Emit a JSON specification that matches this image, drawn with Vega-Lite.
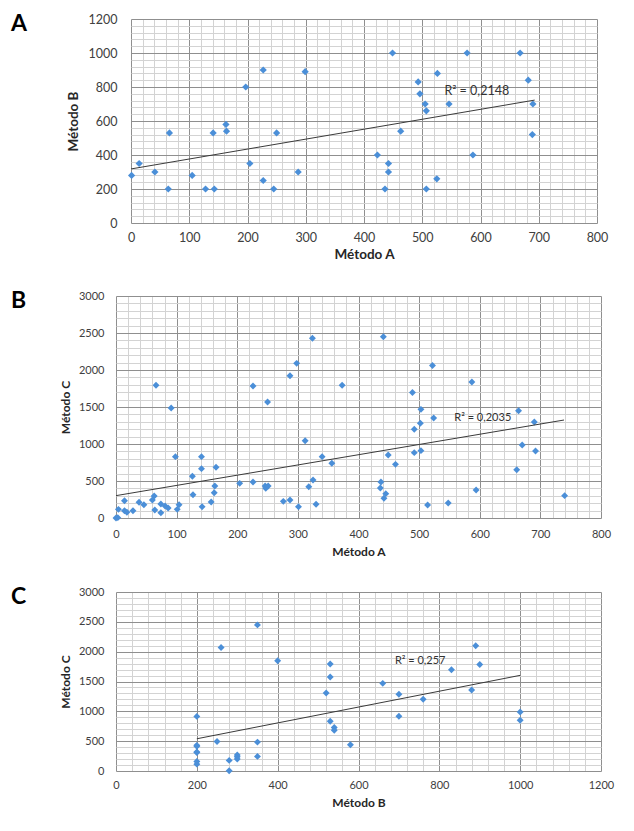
{
  "$schema": "https://vega.github.io/schema/vega-lite/v6.json",
  "background": "white",
  "padding": {"left": 10, "top": 13, "right": 8, "bottom": 8},
  "columns": 2,
  "align": "none",
  "spacing": {"row": 29, "column": 0},
  "config": {
    "font": "Lato",
    "view": {"stroke": null},
    "axis": {
      "labelFont": "Lato",
      "labelColor": "#404040",
      "titleFont": "Lato",
      "titleFontWeight": "bold",
      "titleColor": "#262626",
      "format": "d",
      "ticks": false,
      "domain": false,
      "grid": true,
      "gridOpacity": 1,
      "gridWidth": 1,
      "labelFlush": false,
      "labelOverlap": false
    },
    "title": {"font": "Lato", "fontWeight": "bold", "color": "#000000", "anchor": "start", "frame": "group", "offset": -23, "baseline": "middle"}
  },
  "datasets": {
    "none": [],
    "ab": [
      {"metodoA": 1, "metodoB": 280}, {"metodoA": 14, "metodoB": 350}, {"metodoA": 41, "metodoB": 300},
      {"metodoA": 66, "metodoB": 530}, {"metodoA": 64, "metodoB": 200}, {"metodoA": 105, "metodoB": 280},
      {"metodoA": 128, "metodoB": 200}, {"metodoA": 143, "metodoB": 200}, {"metodoA": 141, "metodoB": 530},
      {"metodoA": 163, "metodoB": 580}, {"metodoA": 164, "metodoB": 540}, {"metodoA": 197, "metodoB": 800},
      {"metodoA": 204, "metodoB": 350}, {"metodoA": 227, "metodoB": 900}, {"metodoA": 227, "metodoB": 250},
      {"metodoA": 245, "metodoB": 200}, {"metodoA": 250, "metodoB": 530}, {"metodoA": 287, "metodoB": 300},
      {"metodoA": 299, "metodoB": 890}, {"metodoA": 423, "metodoB": 400}, {"metodoA": 436, "metodoB": 200},
      {"metodoA": 442, "metodoB": 350}, {"metodoA": 442, "metodoB": 300}, {"metodoA": 449, "metodoB": 1000},
      {"metodoA": 463, "metodoB": 540}, {"metodoA": 493, "metodoB": 830}, {"metodoA": 496, "metodoB": 760},
      {"metodoA": 505, "metodoB": 700}, {"metodoA": 507, "metodoB": 660}, {"metodoA": 507, "metodoB": 200},
      {"metodoA": 526, "metodoB": 880}, {"metodoA": 525, "metodoB": 260}, {"metodoA": 546, "metodoB": 700},
      {"metodoA": 577, "metodoB": 1000}, {"metodoA": 668, "metodoB": 1000}, {"metodoA": 682, "metodoB": 840},
      {"metodoA": 690, "metodoB": 700}, {"metodoA": 689, "metodoB": 520}, {"metodoA": 587, "metodoB": 400}
    ],
    "abTrend": [
      {"metodoA": 0, "metodoB": 318},
      {"metodoA": 693, "metodoB": 723}
    ],
    "abR2": [
      {"metodoA": 538, "metodoB": 776, "label": "R² = 0,2148"}
    ],
    "ac": [
      {"metodoA": 0, "metodoC": 0}, {"metodoA": 3, "metodoC": 5}, {"metodoA": 4, "metodoC": 117},
      {"metodoA": 14, "metodoC": 234}, {"metodoA": 14, "metodoC": 99}, {"metodoA": 18, "metodoC": 77},
      {"metodoA": 28, "metodoC": 99}, {"metodoA": 38, "metodoC": 212}, {"metodoA": 46, "metodoC": 180},
      {"metodoA": 60, "metodoC": 243}, {"metodoA": 63, "metodoC": 297}, {"metodoA": 64, "metodoC": 108},
      {"metodoA": 66, "metodoC": 1793}, {"metodoA": 74, "metodoC": 189}, {"metodoA": 74, "metodoC": 72},
      {"metodoA": 81, "metodoC": 162}, {"metodoA": 86, "metodoC": 135}, {"metodoA": 91, "metodoC": 1486},
      {"metodoA": 98, "metodoC": 829}, {"metodoA": 101, "metodoC": 117}, {"metodoA": 104, "metodoC": 180},
      {"metodoA": 126, "metodoC": 563}, {"metodoA": 127, "metodoC": 315}, {"metodoA": 141, "metodoC": 829},
      {"metodoA": 141, "metodoC": 667}, {"metodoA": 142, "metodoC": 153}, {"metodoA": 157, "metodoC": 216},
      {"metodoA": 162, "metodoC": 342}, {"metodoA": 163, "metodoC": 432}, {"metodoA": 165, "metodoC": 685},
      {"metodoA": 204, "metodoC": 468}, {"metodoA": 226, "metodoC": 1784}, {"metodoA": 226, "metodoC": 486},
      {"metodoA": 246, "metodoC": 432}, {"metodoA": 247, "metodoC": 401}, {"metodoA": 251, "metodoC": 432},
      {"metodoA": 250, "metodoC": 1568}, {"metodoA": 276, "metodoC": 225}, {"metodoA": 287, "metodoC": 243},
      {"metodoA": 287, "metodoC": 1923}, {"metodoA": 298, "metodoC": 2090}, {"metodoA": 301, "metodoC": 153},
      {"metodoA": 312, "metodoC": 1045}, {"metodoA": 318, "metodoC": 423}, {"metodoA": 324, "metodoC": 2428},
      {"metodoA": 325, "metodoC": 513}, {"metodoA": 330, "metodoC": 185}, {"metodoA": 340, "metodoC": 829},
      {"metodoA": 356, "metodoC": 739}, {"metodoA": 373, "metodoC": 1793}, {"metodoA": 437, "metodoC": 486},
      {"metodoA": 436, "metodoC": 405}, {"metodoA": 441, "metodoC": 2450}, {"metodoA": 442, "metodoC": 266},
      {"metodoA": 445, "metodoC": 329}, {"metodoA": 449, "metodoC": 851}, {"metodoA": 461, "metodoC": 725},
      {"metodoA": 489, "metodoC": 1695}, {"metodoA": 492, "metodoC": 1200}, {"metodoA": 492, "metodoC": 883},
      {"metodoA": 502, "metodoC": 1280}, {"metodoA": 503, "metodoC": 1468}, {"metodoA": 503, "metodoC": 910},
      {"metodoA": 514, "metodoC": 176}, {"metodoA": 522, "metodoC": 2060}, {"metodoA": 524, "metodoC": 1351},
      {"metodoA": 548, "metodoC": 203}, {"metodoA": 587, "metodoC": 1838}, {"metodoA": 594, "metodoC": 378},
      {"metodoA": 661, "metodoC": 653}, {"metodoA": 664, "metodoC": 1450}, {"metodoA": 670, "metodoC": 986},
      {"metodoA": 690, "metodoC": 1297}, {"metodoA": 692, "metodoC": 905}, {"metodoA": 740, "metodoC": 302}
    ],
    "acTrend": [
      {"metodoA": 0, "metodoC": 302},
      {"metodoA": 739, "metodoC": 1324}
    ],
    "acR2": [
      {"metodoA": 558, "metodoC": 1347, "label": "R² = 0,2035"}
    ],
    "bc": [
      {"metodoB": 200, "metodoC": 915}, {"metodoB": 200, "metodoC": 430}, {"metodoB": 200, "metodoC": 415},
      {"metodoB": 200, "metodoC": 320}, {"metodoB": 200, "metodoC": 308}, {"metodoB": 200, "metodoC": 160},
      {"metodoB": 200, "metodoC": 115}, {"metodoB": 250, "metodoC": 495}, {"metodoB": 260, "metodoC": 2070},
      {"metodoB": 280, "metodoC": 178}, {"metodoB": 280, "metodoC": 5}, {"metodoB": 300, "metodoC": 270},
      {"metodoB": 300, "metodoC": 240}, {"metodoB": 300, "metodoC": 200}, {"metodoB": 350, "metodoC": 2449},
      {"metodoB": 350, "metodoC": 484}, {"metodoB": 350, "metodoC": 245}, {"metodoB": 400, "metodoC": 1848},
      {"metodoB": 530, "metodoC": 1792}, {"metodoB": 530, "metodoC": 1575}, {"metodoB": 520, "metodoC": 1308},
      {"metodoB": 530, "metodoC": 835}, {"metodoB": 540, "metodoC": 729}, {"metodoB": 540, "metodoC": 684},
      {"metodoB": 580, "metodoC": 440}, {"metodoB": 660, "metodoC": 1469}, {"metodoB": 700, "metodoC": 1285},
      {"metodoB": 700, "metodoC": 918}, {"metodoB": 760, "metodoC": 1202}, {"metodoB": 830, "metodoC": 1697},
      {"metodoB": 880, "metodoC": 1358}, {"metodoB": 890, "metodoC": 2098}, {"metodoB": 900, "metodoC": 1786},
      {"metodoB": 1000, "metodoC": 990}, {"metodoB": 1000, "metodoC": 851}
    ],
    "bcTrend": [
      {"metodoB": 200, "metodoC": 540},
      {"metodoB": 1000, "metodoC": 1603}
    ],
    "bcR2": [
      {"metodoB": 690, "metodoC": 1836, "label": "R² = 0,257"}
    ]
  },
  "concat": [
    {"width": 1, "height": 1, "data": {"name": "none"}, "mark": "point"},
    {
      "width": 466,
      "height": 204,
      "title": {"text": "A", "fontSize": 23, "dx": -120},
      "encoding": {
        "x": {
          "field": "metodoA", "type": "quantitative", "title": "Método A",
          "scale": {"domain": [0, 800], "nice": false, "zero": false},
          "axis": {
            "values": [0,20,40,60,80,100,120,140,160,180,200,220,240,260,280,300,320,340,360,380,400,420,440,460,480,500,520,540,560,580,600,620,640,660,680,700,720,740,760,780,800],
            "labelExpr": "datum.value % 100 === 0 ? datum.label : ''",
            "gridColor": {"condition": {"test": "datum.value % 100 === 0", "value": "#8f8f8f"}, "value": "#d3d3d3"},
            "labelFontSize": 12.5, "titleFontSize": 13.5, "labelPadding": 8, "titlePadding": 4
          }
        },
        "y": {
          "field": "metodoB", "type": "quantitative", "title": "Método B",
          "scale": {"domain": [0, 1200], "nice": false, "zero": false},
          "axis": {
            "values": [0,40,80,120,160,200,240,280,320,360,400,440,480,520,560,600,640,680,720,760,800,840,880,920,960,1000,1040,1080,1120,1160,1200],
            "labelExpr": "datum.value % 200 === 0 ? datum.label : ''",
            "gridColor": {"condition": {"test": "datum.value % 200 === 0", "value": "#8f8f8f"}, "value": "#d3d3d3"},
            "labelFontSize": 12.5, "titleFontSize": 13.5, "labelPadding": 14, "titlePadding": 8
          }
        }
      },
      "layer": [
        {"data": {"name": "ab"}, "mark": {"type": "point", "shape": "diamond", "filled": true, "size": 52, "opacity": 1, "color": "#4b8fd8"}},
        {"data": {"name": "abTrend"}, "mark": {"type": "line", "color": "#3a3a3a", "strokeWidth": 1}},
        {"data": {"name": "abR2"}, "mark": {"type": "text", "align": "left", "baseline": "middle", "fontSize": 12.5, "font": "Lato", "color": "#333333"}, "encoding": {"text": {"field": "label"}}}
      ]
    },
    {"width": 1, "height": 1, "data": {"name": "none"}, "mark": "point"},
    {
      "width": 485,
      "height": 222,
      "title": {"text": "B", "fontSize": 23, "dx": -105},
      "encoding": {
        "x": {
          "field": "metodoA", "type": "quantitative", "title": "Método A",
          "scale": {"domain": [0, 800], "nice": false, "zero": false},
          "axis": {
            "values": [0,20,40,60,80,100,120,140,160,180,200,220,240,260,280,300,320,340,360,380,400,420,440,460,480,500,520,540,560,580,600,620,640,660,680,700,720,740,760,780,800],
            "labelExpr": "datum.value % 100 === 0 ? datum.label : ''",
            "gridColor": {"condition": {"test": "datum.value % 100 === 0", "value": "#8f8f8f"}, "value": "#d3d3d3"},
            "labelFontSize": 11, "titleFontSize": 12, "labelPadding": 10, "titlePadding": 7
          }
        },
        "y": {
          "field": "metodoC", "type": "quantitative", "title": "Método C",
          "scale": {"domain": [0, 3000], "nice": false, "zero": false},
          "axis": {
            "values": [0,100,200,300,400,500,600,700,800,900,1000,1100,1200,1300,1400,1500,1600,1700,1800,1900,2000,2100,2200,2300,2400,2500,2600,2700,2800,2900,3000],
            "labelExpr": "datum.value % 500 === 0 ? datum.label : ''",
            "gridColor": {"condition": {"test": "datum.value % 500 === 0", "value": "#8f8f8f"}, "value": "#d3d3d3"},
            "labelFontSize": 11, "titleFontSize": 12, "labelPadding": 12, "titlePadding": 6
          }
        }
      },
      "layer": [
        {"data": {"name": "ac"}, "mark": {"type": "point", "shape": "diamond", "filled": true, "size": 48, "opacity": 1, "color": "#4b8fd8"}},
        {"data": {"name": "acTrend"}, "mark": {"type": "line", "color": "#3a3a3a", "strokeWidth": 1}},
        {"data": {"name": "acR2"}, "mark": {"type": "text", "align": "left", "baseline": "middle", "fontSize": 11, "font": "Lato", "color": "#333333"}, "encoding": {"text": {"field": "label"}}}
      ]
    },
    {"width": 1, "height": 1, "data": {"name": "none"}, "mark": "point"},
    {
      "width": 485,
      "height": 179,
      "title": {"text": "C", "fontSize": 23, "dx": -105},
      "encoding": {
        "x": {
          "field": "metodoB", "type": "quantitative", "title": "Método B",
          "scale": {"domain": [0, 1200], "nice": false, "zero": false},
          "axis": {
            "values": [0,40,80,120,160,200,240,280,320,360,400,440,480,520,560,600,640,680,720,760,800,840,880,920,960,1000,1040,1080,1120,1160,1200],
            "labelExpr": "datum.value % 200 === 0 ? datum.label : ''",
            "gridColor": {"condition": {"test": "datum.value % 200 === 0", "value": "#8f8f8f"}, "value": "#d3d3d3"},
            "labelFontSize": 11, "titleFontSize": 12, "labelPadding": 8, "titlePadding": 7
          }
        },
        "y": {
          "field": "metodoC", "type": "quantitative", "title": "Método C",
          "scale": {"domain": [0, 3000], "nice": false, "zero": false},
          "axis": {
            "values": [0,100,200,300,400,500,600,700,800,900,1000,1100,1200,1300,1400,1500,1600,1700,1800,1900,2000,2100,2200,2300,2400,2500,2600,2700,2800,2900,3000],
            "labelExpr": "datum.value % 500 === 0 ? datum.label : ''",
            "gridColor": {"condition": {"test": "datum.value % 500 === 0", "value": "#8f8f8f"}, "value": "#d3d3d3"},
            "labelFontSize": 11, "titleFontSize": 12, "labelPadding": 12, "titlePadding": 6
          }
        }
      },
      "layer": [
        {"data": {"name": "bc"}, "mark": {"type": "point", "shape": "diamond", "filled": true, "size": 48, "opacity": 1, "color": "#4b8fd8"}},
        {"data": {"name": "bcTrend"}, "mark": {"type": "line", "color": "#3a3a3a", "strokeWidth": 1}},
        {"data": {"name": "bcR2"}, "mark": {"type": "text", "align": "left", "baseline": "middle", "fontSize": 11, "font": "Lato", "color": "#333333"}, "encoding": {"text": {"field": "label"}}}
      ]
    }
  ]
}
